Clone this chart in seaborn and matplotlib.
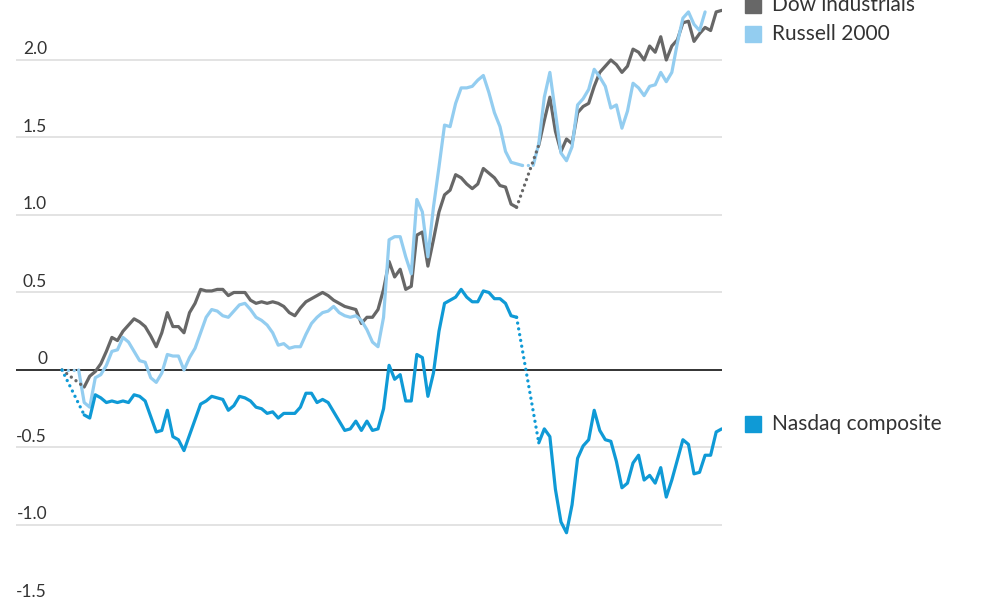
import matplotlib
matplotlib.use('Agg')
import matplotlib.pyplot as plt
import matplotlib.transforms as mtrans
from matplotlib.patches import Rectangle
import seaborn as sns
import numpy as np
import pandas as pd

nan = np.nan

# daily % change readings, one value per trading session (nan = no reading)
dow = [0.00, nan, nan, nan,
       -0.11, -0.04, -0.01, 0.04, 0.12, 0.21, 0.19, 0.25, 0.29, 0.33,
       0.31, 0.28, 0.22, 0.15, 0.24, 0.37, 0.28, 0.28, 0.24, 0.37,
       0.43, 0.52, 0.51, 0.51, 0.52, 0.52, 0.48, 0.50, 0.50, 0.50,
       0.45, 0.43, 0.44, 0.43, 0.44, 0.43, 0.41, 0.37, 0.35, 0.40,
       0.44, 0.46, 0.48, 0.50, 0.48, 0.45, 0.43, 0.41, 0.40, 0.39,
       0.30, 0.34, 0.34, 0.39,
       0.52, 0.70, 0.60, 0.65, 0.52, 0.54, 0.87, 0.89, 0.67, 0.84,
       1.02, 1.13, 1.16, 1.26, 1.24, 1.20, 1.17, 1.20, 1.30, 1.27,
       1.24, 1.19, 1.18, 1.07, 1.05,
       nan, nan, nan,
       1.45, 1.61, 1.76, 1.54, 1.41, 1.49, 1.46, 1.66, 1.70, 1.72,
       1.83, 1.92, 1.96, 2.00, 1.97, 1.92, 1.96, 2.07, 2.05, 2.00,
       2.09, 2.05, 2.15, 2.00, 2.09, 2.13, 2.24, 2.25, 2.12, 2.17,
       2.21, 2.19, 2.31, 2.32]

russell = [0.00, nan, nan,
           0.00, -0.21, -0.24, -0.05, -0.03, 0.03, 0.12, 0.13, 0.21, 0.18,
           0.12, 0.06, 0.05, -0.05, -0.08, -0.02, 0.10, 0.09, 0.09, 0.00,
           0.08, 0.14, 0.24, 0.34, 0.39, 0.38, 0.35, 0.34, 0.38, 0.42,
           0.43, 0.39, 0.34, 0.32, 0.29, 0.24, 0.16, 0.17, 0.14, 0.15,
           0.15, 0.23, 0.30, 0.34, 0.37, 0.38, 0.41, 0.37, 0.35, 0.34,
           0.35, 0.32, 0.26, 0.18, 0.15,
           0.34, 0.84, 0.86, 0.86, 0.73, 0.62, 1.10, 1.02, 0.73, 1.05,
           1.31, 1.58, 1.57, 1.72, 1.82, 1.82, 1.83, 1.87, 1.90, 1.79,
           1.66, 1.57, 1.41, 1.34, 1.33, 1.32,
           nan,
           1.32, 1.46, 1.76, 1.92, 1.66, 1.40, 1.35, 1.44, 1.71, 1.75,
           1.81, 1.94, 1.89, 1.83, 1.69, 1.71, 1.56, 1.67, 1.85, 1.82,
           1.77, 1.83, 1.84, 1.92, 1.86, 1.92, 2.11, 2.27, 2.31, 2.23,
           2.19, 2.31,
           nan, nan, nan]

nasdaq = [0.00, nan, nan, nan,
          -0.29, -0.31, -0.16, -0.18, -0.21, -0.20, -0.21, -0.20, -0.21, -0.16,
          -0.17, -0.20, -0.30, -0.40, -0.39, -0.26, -0.43, -0.45, -0.52, -0.42,
          -0.32, -0.22, -0.20, -0.17, -0.18, -0.19, -0.26, -0.23, -0.17, -0.18,
          -0.20, -0.24, -0.25, -0.28, -0.27, -0.31, -0.28, -0.28, -0.28, -0.24,
          -0.15, -0.15, -0.21, -0.19, -0.21, -0.27, -0.33, -0.39, -0.38, -0.33,
          -0.39, -0.33, -0.39, -0.38,
          -0.25, 0.03, -0.06, -0.03, -0.20, -0.20, 0.10, 0.08, -0.17, -0.02,
          0.25, 0.43, 0.45, 0.47, 0.52, 0.47, 0.44, 0.44, 0.51, 0.50,
          0.46, 0.46, 0.43, 0.35, 0.34,
          nan, nan, nan,
          -0.47, -0.38, -0.43, -0.77, -0.98, -1.05, -0.87, -0.57, -0.49, -0.45,
          -0.26, -0.39, -0.45, -0.46, -0.59, -0.76, -0.73, -0.60, -0.55, -0.71,
          -0.68, -0.73, -0.63, -0.82, -0.71, -0.58, -0.45, -0.48, -0.67, -0.66,
          -0.55, -0.55, -0.40, -0.38]

names = ['Dow industrials', 'Russell 2000', 'Nasdaq composite']
colors = ['#676767', '#93cdf0', '#0f9ad6']
yticks = [-1.5, -1.0, -0.5, 0, 0.5, 1.0, 1.5, 2.0]
ytick_labels = ['-1.5', '-1.0', '-0.5', '0', '0.5', '1.0', '1.5', '2.0']

sns.set_style('white')
plt.rcParams['font.family'] = ['Lato', 'DejaVu Sans']

# long table, each unbroken run gets its own unit id
rows = []
for name, vals in zip(names, [dow, russell, nasdaq]):
    v = np.array(vals, dtype=float)
    ok = ~np.isnan(v)
    seg = np.cumsum(np.r_[True, ok[1:] != ok[:-1]])
    for i in np.where(ok)[0]:
        rows.append((i, v[i], name, seg[i]))
df = pd.DataFrame(rows, columns=['day', 'pct', 'index', 'seg'])

fig = plt.figure(figsize=(10, 6), dpi=100)
ax = fig.add_axes([0.016, 0.0, 0.706, 1.0])

n = len(dow)
ax.set_xlim(-8.3, n - 1 + 0.05)
ax.set_ylim(-1.484, 2.387)

for t in yticks:
    if t == 0:
        continue
    ax.axhline(t, color='#e3e3e3', lw=1.4, zorder=0)
ax.axhline(0, color='#333333', lw=1.4, zorder=1)

sns.lineplot(data=df, x='day', y='pct', hue='index', units='seg',
             estimator=None, palette=dict(zip(names, colors)),
             hue_order=names, lw=2.3, legend=False, ax=ax, zorder=3)

# dotted bridges across missing sessions
for name, vals, c in zip(names, [dow, russell, nasdaq], colors):
    v = np.array(vals, dtype=float)
    idx = np.where(~np.isnan(v))[0]
    for a, b in zip(idx[:-1], idx[1:]):
        if b - a > 1:
            ax.plot([a, b], [v[a], v[b]], color=c, lw=2.4,
                    linestyle=(0, (0.01, 1.75)), dash_capstyle='round',
                    zorder=3)

trans = mtrans.blended_transform_factory(ax.transAxes, ax.transData)
for t, lab in zip(yticks, ytick_labels):
    ax.annotate(lab, xy=(0.044, t), xycoords=trans, xytext=(0, 4),
                textcoords='offset points', ha='right', va='baseline',
                fontsize=12.5, color='#333333', annotation_clip=False)

for s in ax.spines.values():
    s.set_visible(False)
ax.set_xticks([])
ax.set_yticks([])
ax.set_xlabel('')
ax.set_ylabel('')

# legend keys on the right
legend_y = [5, 34, 424]
for name, c, yp in zip(names, colors, legend_y):
    yf = 1 - yp / 600
    fig.patches.append(Rectangle((0.745, yf - 0.013), 0.016, 0.0265,
                                 transform=fig.transFigure, color=c,
                                 figure=fig))
    fig.text(0.772, yf, name, fontsize=15, color='#333333',
             ha='left', va='center')

fig.savefig('out.png', dpi=100)
